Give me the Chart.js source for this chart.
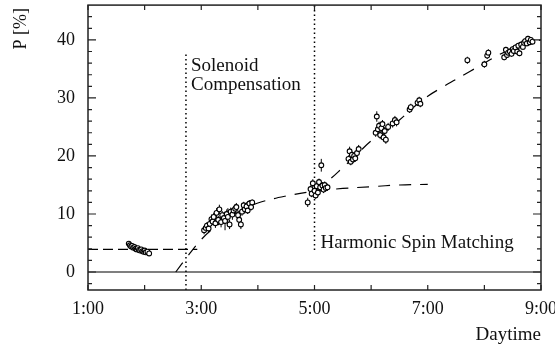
<!DOCTYPE html>
<html>
<head>
<meta charset="utf-8">
<script src="https://cdn.jsdelivr.net/npm/chart.js@4"></script>
<style>
  html, body { margin: 0; padding: 0; background: #fff; }
</style>
</head>
<body>
<canvas id="chart" width="555" height="348"></canvas>
<script>
// measured polarization (time in hours, P in %, error in %)
const hours = [
  1.72, 1.74, 1.76, 1.78, 1.80, 1.82, 1.84, 1.86, 1.88, 1.90, 1.92, 1.94, 1.96, 1.98, 2.00, 2.02, 2.05, 2.08,
  3.05, 3.08, 3.10, 3.13, 3.15, 3.18, 3.20, 3.22, 3.25, 3.27, 3.30, 3.32, 3.35, 3.37, 3.40, 3.42, 3.45, 3.47,
  3.50, 3.52, 3.55, 3.57, 3.60, 3.62, 3.65, 3.67, 3.70, 3.72, 3.75, 3.77, 3.80, 3.82, 3.85, 3.88, 3.90,
  4.88, 4.93, 4.95, 4.97, 5.00, 5.02, 5.04, 5.06, 5.08, 5.10, 5.12, 5.14, 5.16, 5.18, 5.20, 5.23,
  5.60, 5.62, 5.64, 5.66, 5.68, 5.70, 5.72, 5.75, 5.78,
  6.08, 6.10, 6.12, 6.14, 6.16, 6.18, 6.20, 6.22, 6.24, 6.26, 6.30, 6.38, 6.42, 6.45,
  6.68, 6.70, 6.82, 6.85, 6.87,
  7.70, 8.00, 8.05, 8.07,
  8.35, 8.38, 8.40, 8.42, 8.45, 8.48, 8.50, 8.52, 8.55, 8.58, 8.60, 8.62, 8.65, 8.68, 8.70, 8.72, 8.75, 8.77, 8.80, 8.82, 8.85
];
const pol = [
  4.9, 4.6, 4.4, 4.5, 4.2, 4.3, 4.0, 3.9, 4.1, 3.8, 3.7, 3.9, 3.6, 3.5, 3.7, 3.4, 3.5, 3.2,
  7.2, 7.6, 8.0, 7.5, 8.3, 9.1, 8.7, 9.5, 8.4, 10.2, 9.0, 10.8, 8.6, 9.8, 9.3, 8.8, 10.0, 9.5,
  8.2, 10.4, 9.9, 10.6, 10.9, 11.2, 9.8, 9.0, 8.2, 10.4, 11.5, 10.8, 11.3, 10.6, 11.8, 11.2, 12.0,
  12.0, 14.3, 13.5, 15.3, 14.0, 13.2, 14.8, 13.7, 15.5, 14.6, 18.4, 14.9, 14.2, 15.0, 14.5, 14.6,
  19.5, 20.8, 19.0, 20.2, 19.4, 20.0, 19.6, 20.5, 21.2,
  24.0, 26.8, 24.6, 25.2, 23.6, 24.8, 25.5, 23.2, 24.3, 22.8, 25.0, 25.6, 26.2, 25.8,
  28.0, 28.4, 29.2, 29.6, 29.0,
  36.5, 35.8, 37.3, 37.8,
  37.0, 38.3, 37.4, 37.8, 38.0, 37.6, 38.4, 38.1, 38.7, 38.0, 39.0, 37.7, 39.2, 38.8, 39.5, 39.8, 39.4, 40.2, 39.6, 40.0, 39.7
];
const errs = [
  0.4, 0.4, 0.4, 0.4, 0.4, 0.4, 0.4, 0.4, 0.4, 0.4, 0.4, 0.4, 0.4, 0.4, 0.4, 0.4, 0.4, 0.4,
  0.7, 0.7, 0.6, 0.7, 0.6, 0.8, 0.6, 0.7, 0.8, 0.8, 0.7, 0.8, 0.9, 0.7, 1.0, 1.6, 0.8, 1.5,
  0.8, 0.7, 0.9, 0.7, 0.8, 0.7, 0.8, 0.9, 0.8, 0.7, 0.6, 0.7, 0.7, 0.6, 0.6, 0.6, 0.5,
  0.8, 0.6, 0.6, 0.7, 0.6, 0.6, 0.6, 0.6, 0.6, 0.6, 1.1, 0.6, 0.6, 0.6, 0.6, 0.6,
  0.6, 0.8, 0.6, 0.6, 0.6, 0.6, 0.6, 0.6, 0.7,
  0.7, 0.9, 0.7, 0.7, 0.7, 0.7, 0.7, 0.7, 0.7, 0.7, 0.7, 0.7, 0.7, 0.7,
  0.6, 0.6, 0.6, 0.6, 0.6,
  0.6, 0.6, 0.6, 0.6,
  0.5, 0.5, 0.5, 0.5, 0.5, 0.5, 0.5, 0.5, 0.5, 0.5, 0.5, 0.5, 0.5, 0.5, 0.5, 0.5, 0.5, 0.5, 0.5, 0.5, 0.5
];

// fitted curves
const fit1Hours = [2.55, 2.75, 3.0, 3.25, 3.5, 3.75, 4.0, 4.5, 5.0, 5.5, 6.0, 6.5, 7.0];
const fit1Pol   = [0.0, 2.6, 5.6, 7.8, 9.5, 10.8, 11.9, 13.1, 13.9, 14.4, 14.7, 15.0, 15.1];
const fit2Hours = [5.0, 5.25, 5.5, 5.75, 6.0, 6.25, 6.5, 6.75, 7.0, 7.25, 7.5, 7.75, 8.0, 8.25, 8.5, 8.75, 9.0];
const fit2Pol   = [14.0, 15.8, 18.0, 20.3, 22.6, 24.3, 26.2, 28.4, 30.3, 31.8, 33.2, 34.6, 36.0, 37.4, 38.5, 39.4, 40.0];

// initial level and markers
const initLevel = 3.9;
const initEnd = 2.93;
const solenoidTime = 2.73;
const solenoidTop = 37.9;
const harmonicTime = 5.0;
const harmonicBottom = 3.8;

const xTicks = [1, 3, 5, 7, 9];
const yTicks = [0, 10, 20, 30, 40];
const xMin = 1, xMax = 9, yMin = -3.1, yMax = 46;

const serif = "'Liberation Serif', 'Times New Roman', serif";

function xy(xs, ys) {
  return xs.map((v, i) => ({ x: v, y: ys[i] }));
}

const decorations = {
  id: 'decorations',
  beforeDatasetsDraw(chart) {
    const { ctx, scales: { x, y } } = chart;
    ctx.save();
    ctx.strokeStyle = '#000';
    ctx.lineWidth = 1;
    hours.forEach((t, i) => {
      const px = x.getPixelForValue(t);
      ctx.beginPath();
      ctx.moveTo(px, y.getPixelForValue(pol[i] - errs[i]));
      ctx.lineTo(px, y.getPixelForValue(pol[i] + errs[i]));
      ctx.stroke();
    });
    ctx.restore();
  },
  afterDraw(chart) {
    const { ctx, chartArea: a, scales: { x, y } } = chart;
    ctx.save();
    ctx.strokeStyle = '#222';
    ctx.lineWidth = 1.5;
    ctx.strokeRect(a.left, a.top, a.right - a.left, a.bottom - a.top);

    // inward ticks on all sides
    ctx.lineWidth = 1.2;
    ctx.beginPath();
    for (let h = 1; h <= 9; h++) {
      const px = x.getPixelForValue(h);
      ctx.moveTo(px, a.bottom); ctx.lineTo(px, a.bottom - 5);
      ctx.moveTo(px, a.top); ctx.lineTo(px, a.top + 5);
    }
    for (let v = -2; v <= 44; v += 2) {
      const py = y.getPixelForValue(v);
      const len = v % 10 === 0 ? 8 : 4;
      ctx.moveTo(a.left, py); ctx.lineTo(a.left + len, py);
      ctx.moveTo(a.right, py); ctx.lineTo(a.right - len, py);
    }
    ctx.stroke();

    // texts
    ctx.fillStyle = '#111';
    ctx.font = '19px ' + serif;
    ctx.textAlign = 'left';
    ctx.textBaseline = 'alphabetic';
    const sx = x.getPixelForValue(solenoidTime) + 5;
    ctx.fillText('Solenoid', sx, 71);
    ctx.fillText('Compensation', sx, 90);
    ctx.fillText('Harmonic Spin Matching', x.getPixelForValue(harmonicTime) + 6, 248);

    ctx.textAlign = 'right';
    ctx.fillText('Daytime', a.right, 340);

    ctx.translate(26, 8);
    ctx.rotate(-Math.PI / 2);
    ctx.textAlign = 'right';
    ctx.font = '18px ' + serif;
    ctx.fillText('P [%]', 0, 0);
    ctx.restore();
  }
};

const ctx = document.getElementById('chart').getContext('2d');
new Chart(ctx, {
  type: 'scatter',
  data: {
    datasets: [
      {
        label: 'data',
        data: xy(hours, pol),
        pointStyle: 'circle',
        pointRadius: 2.4,
        pointBorderWidth: 1.1,
        pointBackgroundColor: '#fff',
        pointBorderColor: '#000',
        showLine: false
      },
      {
        label: 'fit1',
        data: xy(fit1Hours, fit1Pol),
        showLine: true,
        borderColor: '#000',
        borderWidth: 1.2,
        borderDash: [12, 9],
        pointRadius: 0,
        tension: 0.4
      },
      {
        label: 'fit2',
        data: xy(fit2Hours, fit2Pol),
        showLine: true,
        borderColor: '#000',
        borderWidth: 1.2,
        borderDash: [12, 9],
        pointRadius: 0,
        tension: 0.4
      },
      {
        label: 'init',
        data: [{ x: xMin, y: initLevel }, { x: initEnd, y: initLevel }],
        showLine: true,
        borderColor: '#000',
        borderWidth: 1.2,
        borderDash: [10, 5],
        pointRadius: 0
      },
      {
        label: 'zero',
        data: [{ x: xMin, y: 0 }, { x: xMax, y: 0 }],
        showLine: true,
        borderColor: '#000',
        borderWidth: 1.2,
        pointRadius: 0
      },
      {
        label: 'solenoid',
        data: [{ x: solenoidTime, y: yMin }, { x: solenoidTime, y: solenoidTop }],
        showLine: true,
        borderColor: '#000',
        borderWidth: 1.5,
        borderDash: [1.5, 3],
        pointRadius: 0
      },
      {
        label: 'harmonic',
        data: [{ x: harmonicTime, y: harmonicBottom }, { x: harmonicTime, y: yMax }],
        showLine: true,
        borderColor: '#000',
        borderWidth: 1.5,
        borderDash: [1.5, 3],
        pointRadius: 0
      }
    ]
  },
  options: {
    responsive: false,
    animation: false,
    layout: { padding: { top: 5, right: 14, left: 0, bottom: 0 } },
    plugins: {
      legend: { display: false },
      tooltip: { enabled: false }
    },
    scales: {
      x: {
        type: 'linear',
        min: xMin,
        max: xMax,
        afterFit: function(scale) {
          scale.height = 58;
          scale.paddingLeft = 0;
          scale.paddingRight = 0;
        },
        afterBuildTicks: function(scale) { scale.ticks = xTicks.map(v => ({ value: v })); },
        grid: { display: false, drawTicks: false },
        border: { display: false },
        ticks: {
          padding: 8,
          maxRotation: 0,
          autoSkip: false,
          color: '#111',
          font: { family: serif, size: 18 },
          callback: v => v + ':00'
        }
      },
      y: {
        type: 'linear',
        min: yMin,
        max: yMax,
        afterFit: function(scale) {
          scale.width = 88;
          scale.paddingTop = 0;
          scale.paddingBottom = 0;
        },
        afterBuildTicks: function(scale) { scale.ticks = yTicks.map(v => ({ value: v })); },
        grid: { display: false, drawTicks: false },
        border: { display: false },
        ticks: {
          padding: 13,
          color: '#111',
          font: { family: serif, size: 18 },
          callback: v => String(v)
        }
      }
    }
  },
  plugins: [decorations]
});
</script>
</body>
</html>
